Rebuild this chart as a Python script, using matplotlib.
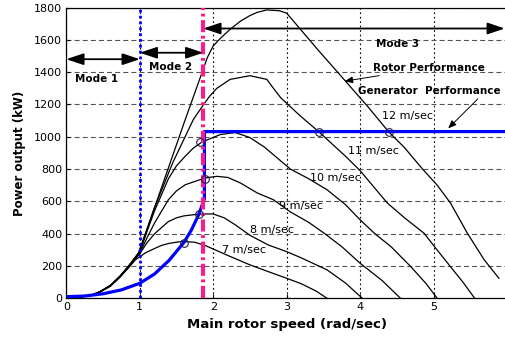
import matplotlib
matplotlib.use("Agg")
import matplotlib.pyplot as plt

# Rotor power curves, main rotor speed (rad/sec) vs power (kW), one per wind speed
speed_7 = [0, 0.2, 0.35, 0.46, 0.6, 0.73, 0.85, 0.94, 1.08, 1.21, 1.3, 1.4, 1.57, 1.75, 1.9, 2.2, 2.5, 2.75, 3.0, 3.2, 3.4, 3.55]
power_7 = [0, 8, 20, 40, 75, 130, 190, 238, 282, 310, 328, 340, 352, 347, 325, 265, 207, 165, 124, 90, 45, 0]

speed_8 = [0, 0.2, 0.35, 0.46, 0.6, 0.73, 0.85, 1.0, 1.1, 1.21, 1.39, 1.5, 1.6, 1.82, 2.0, 2.15, 2.3, 2.5, 2.75, 3.0, 3.2, 3.55, 3.8, 4.03]
power_8 = [0, 8, 20, 40, 76, 132, 195, 275, 345, 403, 475, 498, 510, 522, 522, 498, 455, 390, 330, 289, 250, 176, 95, 0]

speed_9 = [0, 0.2, 0.35, 0.46, 0.6, 0.73, 0.85, 1.0, 1.1, 1.2, 1.39, 1.5, 1.62, 1.89, 2.05, 2.2, 2.37, 2.6, 2.82, 3.05, 3.3, 3.51, 3.75, 4.0, 4.3, 4.55]
power_9 = [0, 8, 20, 41, 77, 134, 197, 280, 375, 465, 610, 665, 703, 745, 755, 748, 714, 652, 610, 535, 470, 403, 320, 217, 110, 0]

speed_10 = [0, 0.2, 0.35, 0.46, 0.6, 0.73, 0.85, 1.0, 1.1, 1.2, 1.39, 1.5, 1.62, 1.73, 1.85, 2.1, 2.3, 2.5, 2.7, 3.05, 3.3, 3.55, 3.8, 4.0, 4.2, 4.42, 4.69, 4.9, 5.05]
power_10 = [0, 9, 21, 41, 78, 135, 199, 285, 415, 540, 740, 820, 880, 930, 968, 1014, 1026, 995, 935, 800, 740, 672, 580, 486, 400, 320, 196, 90, 0]

speed_11 = [0, 0.2, 0.35, 0.46, 0.6, 0.73, 0.85, 1.0, 1.2, 1.45, 1.73, 1.87, 1.95, 2.05, 2.23, 2.5, 2.73, 2.82, 2.92, 3.19, 3.44, 3.8, 4.0, 4.37, 4.6, 4.87, 5.03, 5.23, 5.4, 5.56]
power_11 = [0, 9, 21, 41, 79, 136, 200, 290, 560, 840, 1107, 1200, 1250, 1300, 1355, 1378, 1355, 1300, 1241, 1127, 1030, 880, 790, 590, 500, 403, 310, 196, 100, 0]

speed_12 = [0, 0.2, 0.35, 0.46, 0.6, 0.73, 0.85, 0.98, 1.2, 1.4, 1.62, 1.85, 1.92, 2.0, 2.1, 2.23, 2.37, 2.5, 2.6, 2.73, 2.9, 3.0, 3.07, 3.42, 3.78, 4.1, 4.39, 4.6, 4.85, 5.05, 5.23, 5.46, 5.69, 5.89]
power_12 = [0, 9, 21, 42, 80, 137, 201, 279, 560, 820, 1107, 1400, 1490, 1562, 1610, 1665, 1715, 1750, 1770, 1785, 1780, 1765, 1728, 1541, 1355, 1189, 1030, 935, 800, 700, 590, 403, 238, 124]

# Generator performance curve (cubic region, then held at rated power)
gen_speed = [0, 0.25, 0.5, 0.75, 1.0, 1.2, 1.4, 1.6, 1.7, 1.8, 1.88, 1.88, 6.0]
gen_power = [10, 14, 28, 52, 93, 150, 235, 345, 420, 515, 615, 1032, 1032]

# Operating points where rotor and generator curves meet
op_speed = [1.6, 1.81, 1.89, 1.82, 3.44, 4.39]
op_power = [345, 520, 740, 968, 1032, 1032]

# Mode boundaries (rad/sec)
mode_bounds = [0.0, 1.0, 1.865, 5.97]

wind_labels = ["7 m/sec", "8 m/sec", "9 m/sec", "10 m/sec", "11 m/sec", "12 m/sec"]
xticks = [0, 1, 2, 3, 4, 5]
yticks = [0, 200, 400, 600, 800, 1000, 1200, 1400, 1600, 1800]

fig = plt.figure(figsize=(5.05, 3.39), dpi=100)
ax = fig.add_axes([66.3 / 505, 40.7 / 339, 440.7 / 505, 290.8 / 339])
ax.set_xlim(0, 6)
ax.set_ylim(0, 1800)

# grid: dashed gray horizontals, dotted black verticals
ax.set_axisbelow(True)
ax.yaxis.grid(True, linestyle=(0, (4.5, 2.8)), color="#555555", lw=0.8)
ax.xaxis.grid(True, linestyle=(0, (1.5, 2.5)), color="black", lw=0.8)

for sx, sy in [(speed_7, power_7), (speed_8, power_8), (speed_9, power_9),
               (speed_10, power_10), (speed_11, power_11), (speed_12, power_12)]:
    ax.plot(sx, sy, color="black", lw=0.9, zorder=3)

ax.plot(gen_speed, gen_power, color="#0000ff", lw=2.3, zorder=4, solid_capstyle="butt")

# mode boundaries
ax.axvline(mode_bounds[1], color="#0000ff", lw=2.0, linestyle=(0, (1, 1.1)), zorder=5)
ax.axvline(mode_bounds[2], color="#ff1a8c", lw=2.9, linestyle=(0, (3.0, 0.9, 0.7, 0.9)), zorder=5)

ax.plot(op_speed, op_power, linestyle="none", marker="o", ms=5.5, mfc="none",
        mec="#202040", mew=0.8, zorder=6)

# mode extent arrows
mode_y = [1480, 1520, 1670]
for i, yy in enumerate(mode_y):
    ax.annotate("", xy=(mode_bounds[i + 1], yy), xytext=(mode_bounds[i], yy),
                arrowprops=dict(arrowstyle="<|-|>,head_length=0.95,head_width=0.32",
                                mutation_scale=11, lw=1.3, color="black",
                                shrinkA=0, shrinkB=0), zorder=7)

ax.text(0.12, 1360, "Mode 1", fontsize=7.5, fontweight="bold", va="center", ha="left")
ax.text(1.12, 1433, "Mode 2", fontsize=7.5, fontweight="bold", va="center", ha="left")
ax.text(4.21, 1572, "Mode 3", fontsize=7.5, fontweight="bold", va="center", ha="left")

ax.annotate("Rotor Performance", xy=(3.79, 1344), xytext=(4.18, 1428),
            fontsize=7.5, fontweight="bold", va="center", ha="left",
            arrowprops=dict(arrowstyle="-|>,head_length=0.6,head_width=0.25",
                            mutation_scale=8, lw=0.7, color="black",
                            shrinkA=1, shrinkB=0))
ax.annotate("Generator  Performance", xy=(5.2, 1052), xytext=(3.97, 1282),
            fontsize=7.5, fontweight="bold", va="center", ha="left",
            arrowprops=dict(arrowstyle="-|>,head_length=0.6,head_width=0.25",
                            mutation_scale=8, lw=0.7, color="black",
                            shrinkA=0, shrinkB=0, relpos=(0.86, 0.0)))

label_pos = [(2.12, 300), (2.50, 420), (2.89, 569), (3.32, 745), (3.83, 910), (4.30, 1127)]
for txt, (lx, ly) in zip(wind_labels, label_pos):
    ax.text(lx, ly, txt, fontsize=8, va="center", ha="left", zorder=8)

ax.set_xticks(xticks)
ax.set_yticks(yticks)
ax.tick_params(direction="in", length=3, labelsize=8, pad=3, colors="black")
ax.spines["right"].set_visible(False)
for s in ["left", "bottom", "top"]:
    ax.spines[s].set_linewidth(0.9)

ax.set_xlabel("Main rotor speed (rad/sec)", fontsize=9.5, fontweight="bold")
ax.xaxis.set_label_coords(0.5, -0.068)
ax.set_ylabel("Power output (kW)", fontsize=8.5, fontweight="bold")
ax.yaxis.set_label_coords(-0.092, 0.5)

fig.savefig("out.png", dpi=100)
